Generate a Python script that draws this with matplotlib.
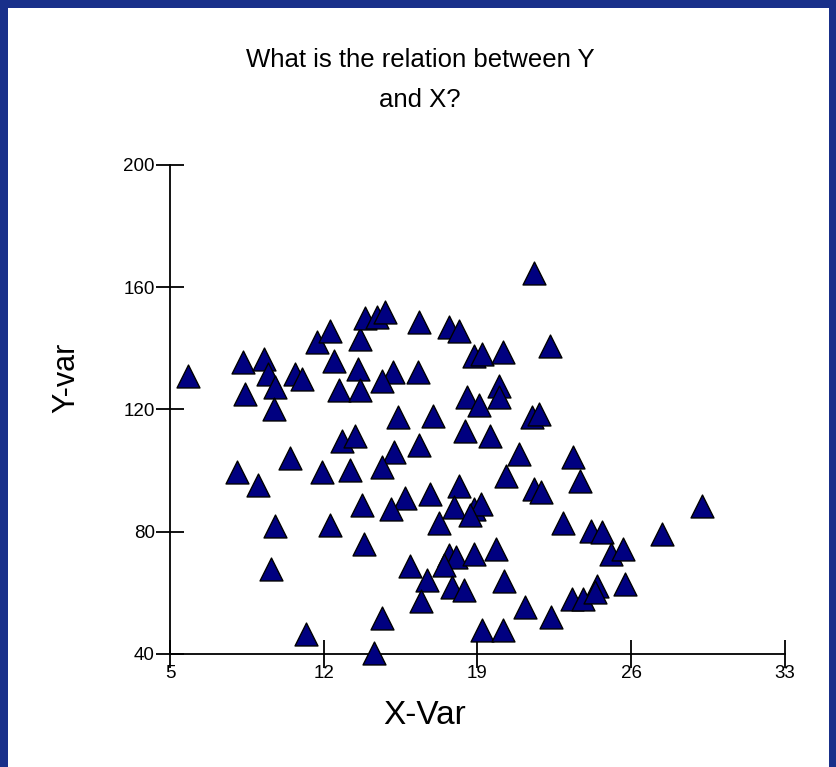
import matplotlib.pyplot as plt
from matplotlib.patches import Rectangle

# values
x_var = [5.8, 8.34, 9.29, 8.42, 9.48, 9.79, 9.74, 10.7, 11.0, 11.69,
         12.3, 12.45, 12.68, 13.54, 13.66, 13.66, 13.9, 14.43, 14.8, 12.83,
         13.44, 10.47, 21.57, 16.35, 17.69, 18.15, 18.83, 19.21, 20.15, 22.3,
         15.15, 16.28, 14.65, 20.0, 18.53, 19.06, 19.97, 21.5, 21.8, 15.37,
         16.98, 18.42, 19.59, 16.32, 15.18, 20.91, 23.35, 14.65, 20.28, 23.65,
         21.57, 21.87, 15.72, 15.06, 16.86, 18.15, 17.92, 18.83, 19.14, 18.68,
         17.24, 22.89, 17.69, 18.0, 18.83, 19.82, 17.46, 15.94, 16.7, 20.2,
         17.85, 18.37, 16.43, 21.14, 22.33, 14.65, 19.21, 20.15, 14.27, 29.21,
         27.42, 24.15, 24.65, 25.06, 25.63, 24.46, 25.72, 23.3, 23.8, 24.33,
         8.04, 9.0, 11.92, 13.18, 13.74, 9.79, 12.3, 13.82, 9.6, 11.2]
y_var = [131, 135.5, 136.4, 125.2, 131.5, 127.5, 120, 131.7, 129.9, 142,
         145.8, 135.8, 126.5, 133.4, 143.2, 126.3, 149.8, 150.4, 152, 109.7,
         111.2, 104, 164.8, 148.5, 146.9, 145.8, 137.6, 138, 138.9, 140.9,
         132.2, 132.2, 129.4, 127.6, 124, 121.4, 124.1, 117.4, 118.5, 117.5,
         118, 112.9, 111.2, 108.5, 106.1, 105.4, 104.6, 101.2, 98.4, 96.6,
         93.9, 93, 91.2, 87.5, 92.5, 95, 88, 87.4, 89.2, 85.4,
         83, 83, 72.4, 71.7, 72.6, 74.2, 69.1, 68.8, 64.2, 64,
         61.9, 60.8, 57.4, 55.3, 52.2, 51.7, 47.8, 47.8, 40.4, 88.5,
         79.4, 80.3, 80, 72.8, 74.2, 62.4, 62.9, 58, 58.1, 60.3,
         99.5, 95.3, 99.5, 100.2, 88.7, 82, 82.2, 76, 67.7, 46.4]
x_ticks = [5, 12, 19, 26, 33]
y_ticks = [40, 80, 120, 160, 200]

plt.rcParams['font.family'] = ['Liberation Sans', 'DejaVu Sans']

W, H = 837, 767
fig = plt.figure(figsize=(W / 100, H / 100), dpi=100, facecolor='#19308a')
# white panel inside the blue frame
fig.patches.append(Rectangle((8 / W, 0), (829 - 8) / W, (H - 8) / H,
                             transform=fig.transFigure, facecolor='white',
                             edgecolor='none', zorder=-5))

ax = fig.add_axes([170 / W, (H - 654) / H, (785 - 170) / W, (654 - 165) / H])
ax.set_facecolor('none')
ax.scatter(x_var, y_var, marker='^', s=16.5 ** 2, color='#000080',
           edgecolors='black', linewidths=1, clip_on=False, zorder=3)

ax.set_xlim(5, 33)
ax.set_ylim(40, 200)
ax.set_xticks(x_ticks)
ax.set_yticks(y_ticks)
ax.tick_params(direction='inout', length=20, width=1.3, labelsize=13.5, pad=1)
ax.tick_params(axis='x', pad=-2)
for s in ['top', 'right']:
    ax.spines[s].set_visible(False)
for s in ['left', 'bottom']:
    ax.spines[s].set_linewidth(1.3)

fig.text(420 / W, 1 - 60 / H, 'What is the relation between Y', ha='center', va='center',
         fontsize=18.5)
fig.text(420 / W, 1 - 100 / H, 'and X?', ha='center', va='center', fontsize=18.5)
fig.text(425 / W, 1 - 715 / H, 'X-Var', ha='center', va='center', fontsize=24)
fig.text(66 / W, 1 - 378 / H, 'Y-var', ha='center', va='center', fontsize=22,
         rotation=90)

fig.savefig('out.png', dpi=100, facecolor=fig.get_facecolor())
